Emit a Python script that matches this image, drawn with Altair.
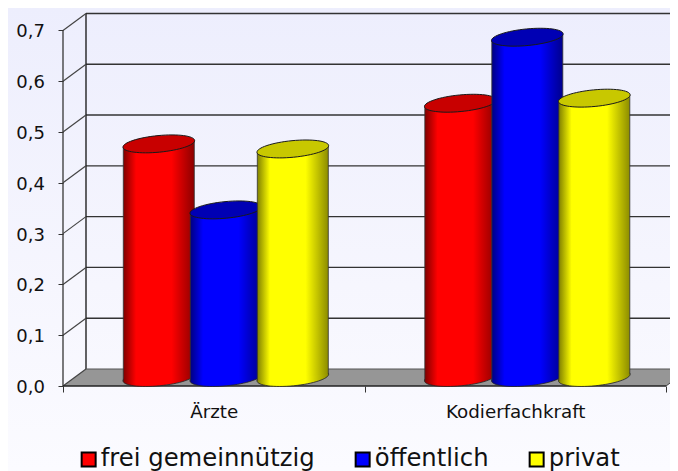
import math
import altair as alt
import pandas as pd

categories = ["Ärzte", "Kodierfachkraft"]
series = ["frei gemeinnützig", "öffentlich", "privat"]
values = {
    "frei gemeinnützig": [0.46, 0.54],
    "öffentlich": [0.33, 0.67],
    "privat": [0.45, 0.55],
}
side_edge = ["#800000", "#000080", "#808000"]
side_mid = ["#ff0000", "#0000ff", "#ffff00"]
side_right = ["#8c0000", "#00008c", "#8c8c00"]
cap_colors = ["#c80000", "#0000b4", "#c8c800"]
y_ticks = [0.0, 0.1, 0.2, 0.3, 0.4, 0.5, 0.6, 0.7]

W, H = 662, 463
PX_X = 301.5          # pixels per category
PX_Y = 507.9          # pixels per 1.0
X0, Y0 = 55, 378      # front origin inside the plot
xdom = [-X0 / PX_X, (W - X0) / PX_X]
ydom = [-(H - Y0) / PX_Y, Y0 / PX_Y]
DX, DY = 23 / PX_X, 17 / PX_Y       # wall depth
BASE = 8.5 / PX_Y                   # cylinder axis above front edge
HALF = 35.5 / PX_X
STEP = 67 / PX_X
CENTER = 0.54
TILT = 3.3 / PX_Y


def ellipse_path(a=36.0, b=8.3, deg=-5.5):
    k = 0.5523
    pts = [(a, 0), (a, k*b), (k*a, b), (0, b), (-k*a, b), (-a, k*b), (-a, 0),
           (-a, -k*b), (-k*a, -b), (0, -b), (k*a, -b), (a, -k*b), (a, 0)]
    c, s = math.cos(math.radians(deg)), math.sin(math.radians(deg))
    r = [(x*c - y*s, x*s + y*c) for x, y in pts]
    out = "M%.2f %.2f" % r[0]
    for i in range(1, 13, 3):
        out += " C%.2f %.2f %.2f %.2f %.2f %.2f" % (*r[i], *r[i+1], *r[i+2])
    return out + " Z"


ELL = ellipse_path()

xs = alt.Scale(domain=xdom, range=[0, W], nice=False, zero=False)
ys = alt.Scale(domain=ydom, range=[H, 0], nice=False, zero=False)
xaxis = alt.Axis(
    values=[0, 0.5, 1, 1.5, 2], orient="bottom", offset=Y0 - H, title=None, grid=False, domain=False,
    tickSize=6, tickColor="#333333", tickWidth=1,
    tickOpacity={"condition": {"test": "datum.value==0.5||datum.value==1.5", "value": 0}, "value": 1},
    labelExpr="datum.value==0.5?'Ärzte':datum.value==1.5?'Kodierfachkraft':''",
    labelFont="DejaVu Sans", labelFontSize=18.3, labelColor="#111111", labelPadding=11,
    labelOverlap=False, labelFlush=False, labelBound=False, zindex=1,
)
yaxis = alt.Axis(
    values=y_ticks, orient="left", offset=-X0, title=None, grid=False, domain=False,
    tickSize=5, tickColor="#333333", tickWidth=1,
    labelExpr="replace(format(datum.value,'.1f'),'.',',')",
    labelFont="DejaVu Sans", labelFontSize=18, labelColor="#111111", labelPadding=13.5, labelOffset=1.5,
    labelOverlap=False, labelBound=False, labelFlush=False, zindex=1,
)


def X(f):
    return alt.X(f, type="quantitative", scale=xs, axis=xaxis, title=None)


def Y(f):
    return alt.Y(f, type="quantitative", scale=ys, axis=yaxis, title=None)


bg = alt.Chart(pd.DataFrame({"x": [xdom[0]], "x2": [xdom[1]], "y": [ydom[1]], "y2": [ydom[0]]})).mark_rect(
    color=alt.Gradient(gradient="linear", x1=0, x2=0, y1=0, y2=1,
                       stops=[alt.GradientStop(color="#edeefd", offset=0),
                              alt.GradientStop(color="#f6f6fe", offset=0.6),
                              alt.GradientStop(color="#fbfbff", offset=1)])
).encode(x=X("x"), x2="x2", y=Y("y"), y2="y2")

grid_df = pd.DataFrame({
    "x": [DX] * len(y_ticks), "x2": [xdom[1] + 1] * len(y_ticks),
    "y": [t + DY for t in y_ticks],
    "x0": [0.0] * len(y_ticks), "y0": y_ticks,
})
grid = alt.Chart(grid_df[grid_df.y0 > 0]).mark_rule(color="#333333", strokeWidth=1.4).encode(x=X("x"), x2="x2", y=Y("y"))
slants = alt.Chart(grid_df).mark_rule(color="#444444", strokeWidth=1.2).encode(x=X("x0"), x2="x", y=Y("y0"), y2="y")
back_v = alt.Chart(pd.DataFrame({"x": [DX], "y": [DY], "y2": [0.7 + DY]})).mark_rule(color="#222222", strokeWidth=1.4).encode(x=X("x"), y=Y("y"), y2="y2")
front_v = alt.Chart(pd.DataFrame({"x": [0.0], "y": [0.0], "y2": [0.7]})).mark_rule(color="#444444", strokeWidth=1.4).encode(x=X("x"), y=Y("y"), y2="y2")

floor_df = pd.DataFrame({
    "x": [0.0, DX, 2.0, 2.0 + DX],
    "y": [0.0, DY, DY, DY],
    "y2": [0.0, 0.0, 0.0, DY],
})
floor = alt.Chart(floor_df).mark_area(color="#969696", opacity=1).encode(x=X("x"), y=Y("y"), y2="y2")
floor_back = alt.Chart(pd.DataFrame({"x": [DX], "x2": [xdom[1] + 1], "y": [DY]})).mark_rule(color="#555555", strokeWidth=1).encode(x=X("x"), x2="x2", y=Y("y"))
front_h = alt.Chart(pd.DataFrame({"x": [0.0], "x2": [2.0], "y": [0.0]})).mark_rule(color="#222222", strokeWidth=1.5).encode(x=X("x"), x2="x2", y=Y("y"))
right_slant = alt.Chart(pd.DataFrame({"x": [2.0], "x2": [2.0 + DX], "y": [0.0], "y2": [DY]})).mark_rule(color="#444444", strokeWidth=1).encode(x=X("x"), x2="x2", y=Y("y"), y2="y2")

layers = [bg, floor, grid, back_v, slants, front_v, floor_back, front_h, right_slant]

for i, s in enumerate(series):
    grad = alt.Gradient(gradient="linear", x1=0, x2=1, y1=0, y2=0, stops=[
        alt.GradientStop(color=side_edge[i], offset=0),
        alt.GradientStop(color=side_mid[i], offset=0.18),
        alt.GradientStop(color=side_mid[i], offset=0.68),
        alt.GradientStop(color=side_right[i], offset=1),
    ])
    cx = [g + CENTER + (i - 1) * STEP for g in range(len(categories))]
    pts = pd.DataFrame({"cat": categories, "x": cx, "v": values[s]})
    pts["top"] = pts["v"] + BASE
    pts["bot"] = BASE
    pts["xl"] = pts["x"] - HALF
    pts["xr"] = pts["x"] + HALF
    body = pd.concat([
        pd.DataFrame({"cat": categories, "x": pts["xl"], "y": pts["top"] - TILT, "y2": BASE - TILT}),
        pd.DataFrame({"cat": categories, "x": pts["xr"], "y": pts["top"] + TILT, "y2": BASE + TILT}),
    ])
    layers.append(alt.Chart(pts).mark_point(shape=ELL, size=4, filled=True, fill=grad, stroke="#222222", strokeWidth=0.8, opacity=1)
                  .encode(x=X("x"), y=Y("bot")))
    layers.append(alt.Chart(body).mark_area(color=grad, opacity=1).encode(x=X("x"), y=Y("y"), y2="y2", detail="cat:N"))
    edges = pd.concat([
        pd.DataFrame({"x": pts["xl"], "y": pts["top"] - TILT, "y2": BASE - TILT}),
        pd.DataFrame({"x": pts["xr"], "y": pts["top"] + TILT, "y2": BASE + TILT}),
    ])
    layers.append(alt.Chart(edges).mark_rule(color="#333333", strokeWidth=1, opacity=0.8).encode(x=X("x"), y=Y("y"), y2="y2"))
    layers.append(alt.Chart(pts).mark_point(shape=ELL, size=4, filled=True, fill=cap_colors[i], stroke="#1a1a1a", strokeWidth=1, opacity=1)
                  .encode(x=X("x"), y=Y("top")))

legend_df = pd.DataFrame({"series": series, "x": [0.0] * 3, "y": [0.0] * 3})
legend_layer = alt.Chart(legend_df).mark_point(size=0, filled=True, opacity=0, shape="square").encode(
    x=X("x"), y=Y("y"),
    color=alt.Color("series:N", sort=series, scale=alt.Scale(domain=series, range=side_mid),
                    legend=alt.Legend(title=None, orient="none", legendX=68.5, legendY=439, direction="horizontal",
                                      columns=3, symbolType="square", symbolSize=196, symbolStrokeColor="#000000",
                                      symbolStrokeWidth=2, symbolOpacity=1, labelFont="DejaVu Sans", labelFontSize=24.3,
                                      labelColor="#111111", labelOffset=0, columnPadding=35, padding=0,
                                      labelLimit=400)),
)
layers.append(legend_layer)

chart = alt.layer(*layers).properties(width=W, height=H, padding=0, autosize=alt.AutoSizeParams(type="none"), background="#f5f5fe").configure_view(stroke=None)

chart.save("out.html", embed_options={"renderer": "svg", "actions": False})
